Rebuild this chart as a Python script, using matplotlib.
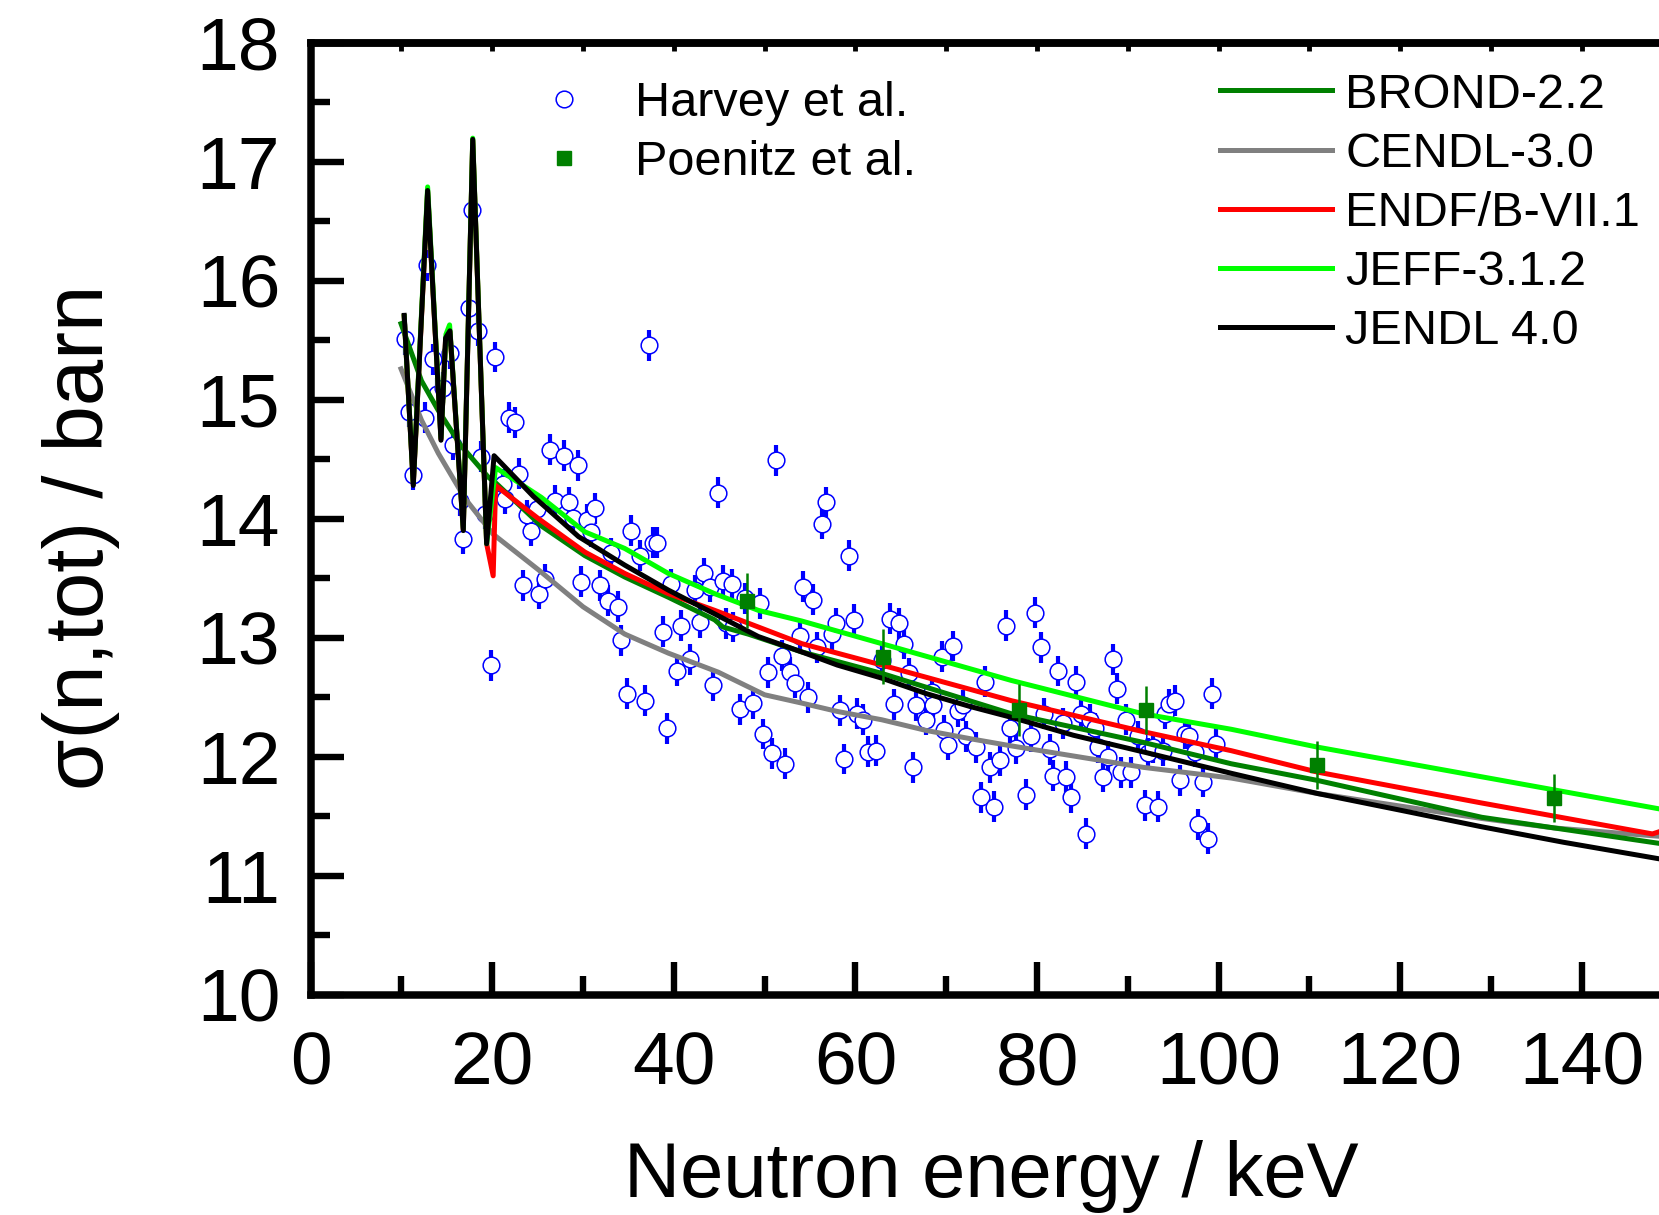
import numpy as np
import matplotlib
matplotlib.use("Agg")
import matplotlib.pyplot as plt
from matplotlib.lines import Line2D
from matplotlib.ticker import MultipleLocator

plt.rcParams['font.family'] = ['Liberation Sans', 'DejaVu Sans']

# ---------------- data ----------------
# Harvey et al. (open circles with error bars)
harvey_x = [10.4, 10.8, 11.3, 12.6, 12.8, 13.5, 13.9, 14.6, 15.3, 15.7, 16.4, 16.8, 17.4, 17.8,
            18.4, 18.8, 19.2, 19.9, 20.3, 21.2, 21.4, 21.8, 22.5, 22.9, 23.4, 23.8, 24.3, 24.9,
            25.2, 25.8, 26.4, 26.9, 27.9, 28.4, 28.9, 29.4, 29.8, 30.4, 30.9, 31.3, 31.9, 32.8,
            33.1, 33.9, 34.2, 34.8, 35.3, 36.3, 36.8, 37.3, 37.7, 38.1, 38.8, 39.3, 39.7, 40.3,
            40.8, 41.8, 42.3, 42.9, 43.3, 44.0, 44.3, 44.9, 45.4, 45.8, 46.4, 46.5, 47.3, 47.8,
            48.7, 49.5, 49.8, 50.4, 50.8, 51.3, 51.9, 52.3, 52.8, 53.3, 53.9, 54.2, 54.8, 55.3,
            55.8, 56.3, 56.8, 57.4, 57.9, 58.3, 58.8, 59.3, 59.9, 60.2, 60.8, 61.4, 62.3, 62.9,
            63.8, 64.3, 64.8, 65.4, 65.9, 66.3, 66.7, 67.8, 68.4, 68.5, 69.5, 69.8, 70.2, 70.8,
            71.3, 71.8, 72.2, 73.3, 73.8, 74.3, 74.8, 75.3, 75.9, 76.6, 77.0, 77.7, 78.8, 79.3,
            79.8, 80.4, 80.8, 81.4, 81.8, 82.3, 82.9, 83.2, 83.8, 84.3, 84.9, 85.4, 85.8, 86.4,
            86.7, 87.3, 87.8, 88.4, 88.8, 89.3, 89.8, 90.4, 91.1, 91.9, 92.2, 92.8, 93.3, 93.9,
            94.1, 94.6, 95.2, 95.8, 96.3, 96.8, 97.4, 97.7, 98.3, 98.8, 99.3, 99.7]
harvey_y = [15.51, 14.90, 14.37, 14.85, 16.13, 15.34, 15.05, 15.10, 15.39, 14.62, 14.15, 13.83, 15.77, 16.60,
            15.58, 14.52, 14.04, 12.77, 15.36, 14.29, 14.17, 14.85, 14.81, 14.38, 13.44, 14.03, 13.90, 14.08,
            13.37, 13.49, 14.58, 14.15, 14.53, 14.14, 14.01, 14.45, 13.47, 13.99, 13.89, 14.09, 13.44, 13.31,
            13.71, 13.26, 12.98, 12.53, 13.90, 13.69, 12.47, 15.46, 13.80, 13.80, 13.05, 12.24, 13.45, 12.72,
            13.10, 12.82, 13.40, 13.13, 13.54, 13.43, 12.60, 14.22, 13.48, 13.12, 13.45, 13.09, 12.40, 13.33,
            12.45, 13.29, 12.19, 12.71, 12.03, 14.49, 12.85, 11.94, 12.71, 12.62, 13.01, 13.43, 12.50, 13.32,
            12.92, 13.96, 14.14, 13.03, 13.12, 12.39, 11.98, 13.69, 13.15, 12.36, 12.31, 12.04, 12.05, 12.81,
            13.16, 12.44, 13.12, 12.95, 12.70, 11.91, 12.43, 12.31, 12.54, 12.43, 12.84, 12.22, 12.10, 12.93,
            12.38, 12.43, 12.17, 12.08, 11.66, 12.63, 11.91, 11.58, 11.97, 13.10, 12.24, 12.07, 11.68, 12.17,
            13.21, 12.92, 12.36, 12.06, 11.84, 12.72, 12.28, 11.83, 11.66, 12.63, 12.36, 11.35, 12.31, 12.24,
            12.08, 11.83, 12.00, 12.82, 12.57, 11.87, 12.31, 11.87, 12.17, 11.59, 12.03, 12.08, 11.58, 12.05,
            12.36, 12.44, 12.47, 11.80, 12.19, 12.17, 12.04, 11.43, 11.79, 11.31, 12.53, 12.11]
harvey_err = 0.13

# Poenitz et al. (filled squares)
poenitz_x = [48.1, 63.05, 78.0, 92.0, 110.9, 137.0]
poenitz_y = [13.31, 12.84, 12.39, 12.39, 11.93, 11.65]
poenitz_err = [0.23, 0.23, 0.22, 0.20, 0.20, 0.20]

# Evaluated data libraries
brond_x = [9.95, 12.2, 14.06, 16.5, 19.56, 20.4, 25.4, 30.2, 34.6, 39.4, 44.5, 45.4, 48.2, 54.1,
           62.9, 77.2, 91.7, 101.4, 110.9, 129.0, 148.6]
brond_y = [15.64, 15.16, 14.91, 14.62, 14.35, 14.30, 13.94, 13.69, 13.51, 13.34, 13.15, 13.09, 13.03, 12.88,
           12.70, 12.36, 12.12, 11.94, 11.80, 11.49, 11.27]

cendl_x = [9.95, 12.2, 14.06, 17.0, 20.1, 25.1, 30.0, 34.6, 39.4, 44.9, 50.0, 54.1, 58.0, 62.9,
           67.8, 72.7, 77.2, 91.7, 101.4, 110.9, 129.0, 137.0, 148.6]
cendl_y = [15.26, 14.83, 14.55, 14.17, 13.87, 13.57, 13.26, 13.03, 12.87, 12.71, 12.52, 12.45, 12.38, 12.31,
           12.22, 12.15, 12.09, 11.91, 11.82, 11.69, 11.48, 11.40, 11.33]

endf_x = [10.3, 11.3, 12.88, 14.35, 14.86, 15.34, 16.81, 17.85, 19.38, 20.1, 20.37, 25.1, 30.2, 34.6,
          39.4, 44.5, 49.3, 54.1, 62.9, 77.2, 91.7, 101.4, 110.9, 129.0, 147.8, 148.6]
endf_y = [15.70, 14.29, 16.75, 14.67, 15.51, 15.57, 13.91, 17.18, 13.79, 13.52, 14.28, 14.00, 13.72, 13.54,
          13.37, 13.23, 13.09, 12.95, 12.77, 12.47, 12.21, 12.05, 11.87, 11.61, 11.35, 11.37]

jeff_x = [10.3, 11.3, 12.88, 14.35, 14.9, 15.3, 16.81, 17.85, 19.38, 20.37, 25.4, 30.2, 34.6, 39.4,
          44.5, 49.3, 54.1, 62.9, 77.2, 91.7, 101.4, 110.9, 137.0, 148.6]
jeff_y = [15.70, 14.30, 16.79, 14.68, 15.55, 15.63, 13.92, 17.20, 13.79, 14.43, 14.18, 13.89, 13.75, 13.54,
          13.37, 13.23, 13.14, 12.95, 12.64, 12.36, 12.23, 12.08, 11.72, 11.56]

jendl_x = [10.3, 11.3, 12.88, 14.35, 14.86, 15.34, 16.81, 17.85, 19.38, 20.2, 24.5, 29.5, 34.6, 39.4,
           44.5, 49.3, 54.1, 58.0, 62.9, 67.8, 72.7, 77.2, 84.0, 91.7, 101.4, 110.9, 120.0, 129.0,
           138.0, 148.6]
jendl_y = [15.71, 14.28, 16.76, 14.66, 15.52, 15.58, 13.90, 17.19, 13.79, 14.53, 14.19, 13.85, 13.61, 13.40,
           13.20, 13.01, 12.88, 12.77, 12.66, 12.53, 12.42, 12.33, 12.18, 12.04, 11.86, 11.69, 11.55, 11.41,
           11.28, 11.14]

x_ticks = [0, 20, 40, 60, 80, 100, 120, 140]
y_ticks = [10, 11, 12, 13, 14, 15, 16, 17, 18]

# ---------------- figure ----------------
W, H = 1659, 1215
fig = plt.figure(figsize=(W / 100, H / 100), dpi=100)
ax = fig.add_axes([310.7 / W, 1 - 994.5 / H, (1672.4 - 310.7) / W, (994.5 - 43) / H])

ax.errorbar(harvey_x, harvey_y, yerr=harvey_err, fmt='o', ms=12, mfc='white', mec='#0000ff',
            mew=1.1, ecolor='#0000ff', elinewidth=3.0, capsize=0, zorder=1.5)

lw = 3.6
ax.plot(cendl_x, cendl_y, color='#808080', lw=lw, zorder=3, solid_joinstyle='round')
ax.plot(brond_x, brond_y, color='#008000', lw=lw, zorder=4, solid_joinstyle='round')
ax.plot(endf_x, endf_y, color='#ff0000', lw=lw, zorder=5, solid_joinstyle='round')
ax.plot(jeff_x, jeff_y, color='#00ff00', lw=lw, zorder=6, solid_joinstyle='round')
ax.plot(jendl_x, jendl_y, color='#000000', lw=lw, zorder=7, solid_joinstyle='round')

ax.errorbar(poenitz_x, poenitz_y, yerr=poenitz_err, fmt='s', ms=10, mfc='#008000', mec='#008000',
            ecolor='#008000', elinewidth=1.8, capsize=0, zorder=8)

ax.set_xlim(0, 150)
ax.set_ylim(10, 18)
ax.set_xticks(x_ticks)
ax.set_yticks(y_ticks)
ax.xaxis.set_minor_locator(MultipleLocator(10))
ax.yaxis.set_minor_locator(MultipleLocator(0.5))

for s in ax.spines.values():
    s.set_linewidth(5.4)
ax.spines['right'].set_visible(False)

ax.tick_params(which='both', direction='in', width=4.6, top=False, right=False)
ax.tick_params(which='major', length=23.5)
ax.tick_params(which='minor', length=13.5)
ax.tick_params(axis='x', which='major', labelsize=54, pad=26)
ax.tick_params(axis='y', which='major', labelsize=54, pad=22)

sec = ax.secondary_xaxis('top')
sec.set_xticks(np.arange(0, 151, 10))
sec.tick_params(direction='in', length=6, width=3.5, labeltop=False)
sec.spines['top'].set_linewidth(5.4)

ax.set_xlabel('Neutron energy / keV', fontsize=56)
ax.xaxis.set_label_coords(0.5, -0.153)
ax.set_ylabel('σ(n,tot) / barn', fontsize=60)
ax.yaxis.set_label_coords(-0.14, 0.48)

# legends
h1 = [Line2D([], [], ls='none', marker='o', ms=12, mfc='white', mec='#0000ff', mew=1.1),
      Line2D([], [], ls='none', marker='s', ms=10, mfc='#008000', mec='#008000')]
leg1 = ax.legend(h1, ['Harvey et al.', 'Poenitz et al.'], loc='upper left',
                 bbox_to_anchor=(528 / W, 1 - 81 / H), bbox_transform=fig.transFigure,
                 frameon=False, fontsize=35, handlelength=1.5, handletextpad=0.7,
                 labelspacing=0.29, borderpad=0, borderaxespad=0)
ax.add_artist(leg1)

h2 = [Line2D([], [], color=c, lw=lw) for c in ['#008000', '#808080', '#ff0000', '#00ff00', '#000000']]
ax.legend(h2, ['BROND-2.2', 'CENDL-3.0', 'ENDF/B-VII.1', 'JEFF-3.1.2', 'JENDL 4.0'], loc='upper left',
          bbox_to_anchor=(1220 / W, 1 - 72.5 / H), bbox_transform=fig.transFigure,
          frameon=False, fontsize=35, handlelength=2.3, handletextpad=0.28,
          labelspacing=0.29, borderpad=0, borderaxespad=0)

fig.savefig('out.png', dpi=100)
